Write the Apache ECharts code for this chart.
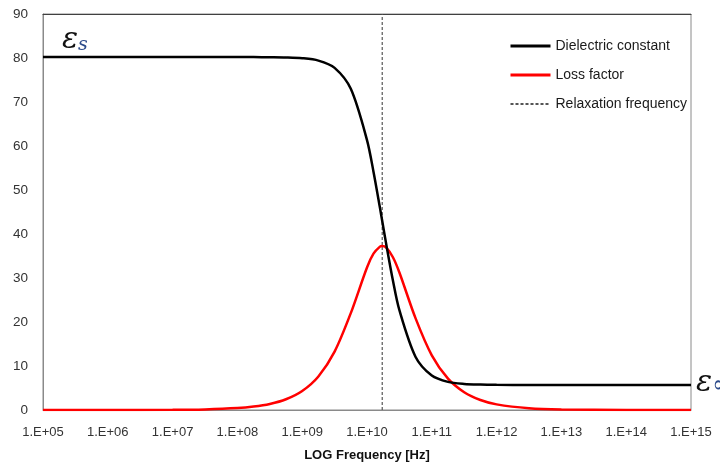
<!DOCTYPE html>
<html><head><meta charset="utf-8">
<script src="https://cdn.jsdelivr.net/npm/echarts@6/dist/echarts.min.js"></script>
<style>html,body{margin:0;padding:0;background:#fff}#c{width:720px;height:463px}</style>
</head><body><div id="c"></div>
<script>
// log10 of frequency [Hz]
const logFreq = [5, 6, 7, 7.5, 8, 8.25, 8.5, 8.75, 9, 9.25, 9.5, 9.75, 10, 10.1, 10.2, 10.235, 10.3, 10.4, 10.5, 10.75, 11, 11.25, 11.5, 11.75, 12, 12.5, 13, 14, 15];
const dielectricConstant = [80.2, 80.2, 80.2, 80.2, 80.2, 80.2, 80.17, 80.12, 79.95, 79.41, 77.76, 72.99, 61.35, 54.17, 45.95, 42.95, 37.42, 29.44, 22.68, 12.06, 7.84, 6.39, 5.92, 5.77, 5.72, 5.70, 5.70, 5.70, 5.70];
const lossFactor = [0.0, 0.0, 0.04, 0.14, 0.43, 0.77, 1.37, 2.44, 4.32, 7.63, 13.27, 22.02, 32.39, 35.52, 37.13, 37.25, 36.84, 34.71, 31.25, 20.82, 12.43, 7.13, 4.04, 2.27, 1.28, 0.41, 0.13, 0.01, 0.0];
const relaxationLogFreq = 10.235;
const xTickLabels = ['1.E+05','1.E+06','1.E+07','1.E+08','1.E+09','1.E+10','1.E+11','1.E+12','1.E+13','1.E+14','1.E+15'];
const yTicks = [0, 10, 20, 30, 40, 50, 60, 70, 80, 90];

const chart = echarts.init(document.getElementById('c'), null, {renderer: 'canvas'});
const FONT = 'Liberation Sans';
chart.setOption({
  animation: false,
  backgroundColor: '#fff',
  grid: {left: 43, right: 29, top: 14, bottom: 53, show: true, borderColor: '#8a8a8a', borderWidth: 1,
    containLabel: false, outerBoundsMode: 'none'},
  legend: {
    orient: 'vertical', left: 504, top: 34, itemGap: 15, itemWidth: 40, itemHeight: 16,
    itemStyle: {opacity: 0},
    textStyle: {fontFamily: FONT, fontSize: 14, color: '#1a1a1a'},
    data: [
      {name: 'Dielectric constant', lineStyle: {width: 3}},
      {name: 'Loss factor', lineStyle: {width: 3}},
      {name: 'Relaxation frequency'}
    ]
  },
  xAxis: [{
    type: 'value', min: 5, max: 15, interval: 1,
    name: 'LOG Frequency [Hz]', nameLocation: 'middle', nameGap: 39,
    nameTextStyle: {fontFamily: FONT, fontSize: 13, fontWeight: 'bold', color: '#111'},
    axisLine: {show: true, lineStyle: {color: '#8a8a8a', width: 1}},
    axisTick: {show: false}, splitLine: {show: false},
    axisLabel: {fontFamily: FONT, fontSize: 13, color: '#333', margin: 16,
      formatter: v => xTickLabels[Math.round(v - 5)]}
  }, {
    type: 'value', min: 5, max: 15, position: 'top',
    axisLine: {show: true, onZero: false, lineStyle: {color: '#404040', width: 1}},
    axisTick: {show: false}, axisLabel: {show: false}, splitLine: {show: false}
  }],
  yAxis: {
    type: 'value', min: 0, max: 90, interval: 10,
    axisLine: {show: true, lineStyle: {color: '#8a8a8a', width: 1}},
    axisTick: {show: false}, splitLine: {show: false},
    axisLabel: {fontFamily: FONT, fontSize: 13.5, color: '#333', margin: 15,
      formatter: v => yTicks.includes(v) ? String(v) : ''}
  },
  series: [
    {name: 'Dielectric constant', type: 'line', symbol: 'none', smooth: 0.3,
      data: logFreq.map((x, i) => [x, dielectricConstant[i]]),
      lineStyle: {color: '#000', width: 2.5}, itemStyle: {color: '#000'}, z: 3},
    {name: 'Loss factor', type: 'line', symbol: 'none', smooth: 0.3,
      data: logFreq.map((x, i) => [x, lossFactor[i]]),
      lineStyle: {color: '#ff0000', width: 2.5}, itemStyle: {color: '#ff0000'}, z: 2},
    {name: 'Relaxation frequency', type: 'line', symbol: 'none',
      data: [[relaxationLogFreq, 0], [relaxationLogFreq, 90]],
      lineStyle: {color: '#555', width: 1.2, type: [3, 2]}, itemStyle: {color: '#555'}, z: 1}
  ],
  graphic: [
    {type: 'text', left: 62, top: 25, z: 100,
      style: {text: '{e|ε}{s|s}', rich: {
        e: {fontFamily: 'DejaVu Serif', fontStyle: 'italic', fontSize: 30, fill: '#111', verticalAlign: 'bottom'},
        s: {fontFamily: 'DejaVu Serif', fontStyle: 'italic', fontSize: 19, fill: '#2b4a8a', padding: [12, 0, 0, 0], verticalAlign: 'bottom'}
      }}},
    {type: 'rect', shape: {x: 693, y: 362, width: 27, height: 47}, style: {fill: '#fff'}, z: 99},
    {type: 'text', left: 696, top: 368, z: 100,
      style: {text: '{e|ε}{s|∞}', rich: {
        e: {fontFamily: 'DejaVu Serif', fontStyle: 'italic', fontSize: 30, fill: '#111', verticalAlign: 'bottom'},
        s: {fontFamily: 'DejaVu Serif', fontStyle: 'italic', fontSize: 24, fill: '#2b4a8a', padding: [10, 0, 0, 0], verticalAlign: 'bottom'}
      }}}
  ]
});
</script></body></html>
